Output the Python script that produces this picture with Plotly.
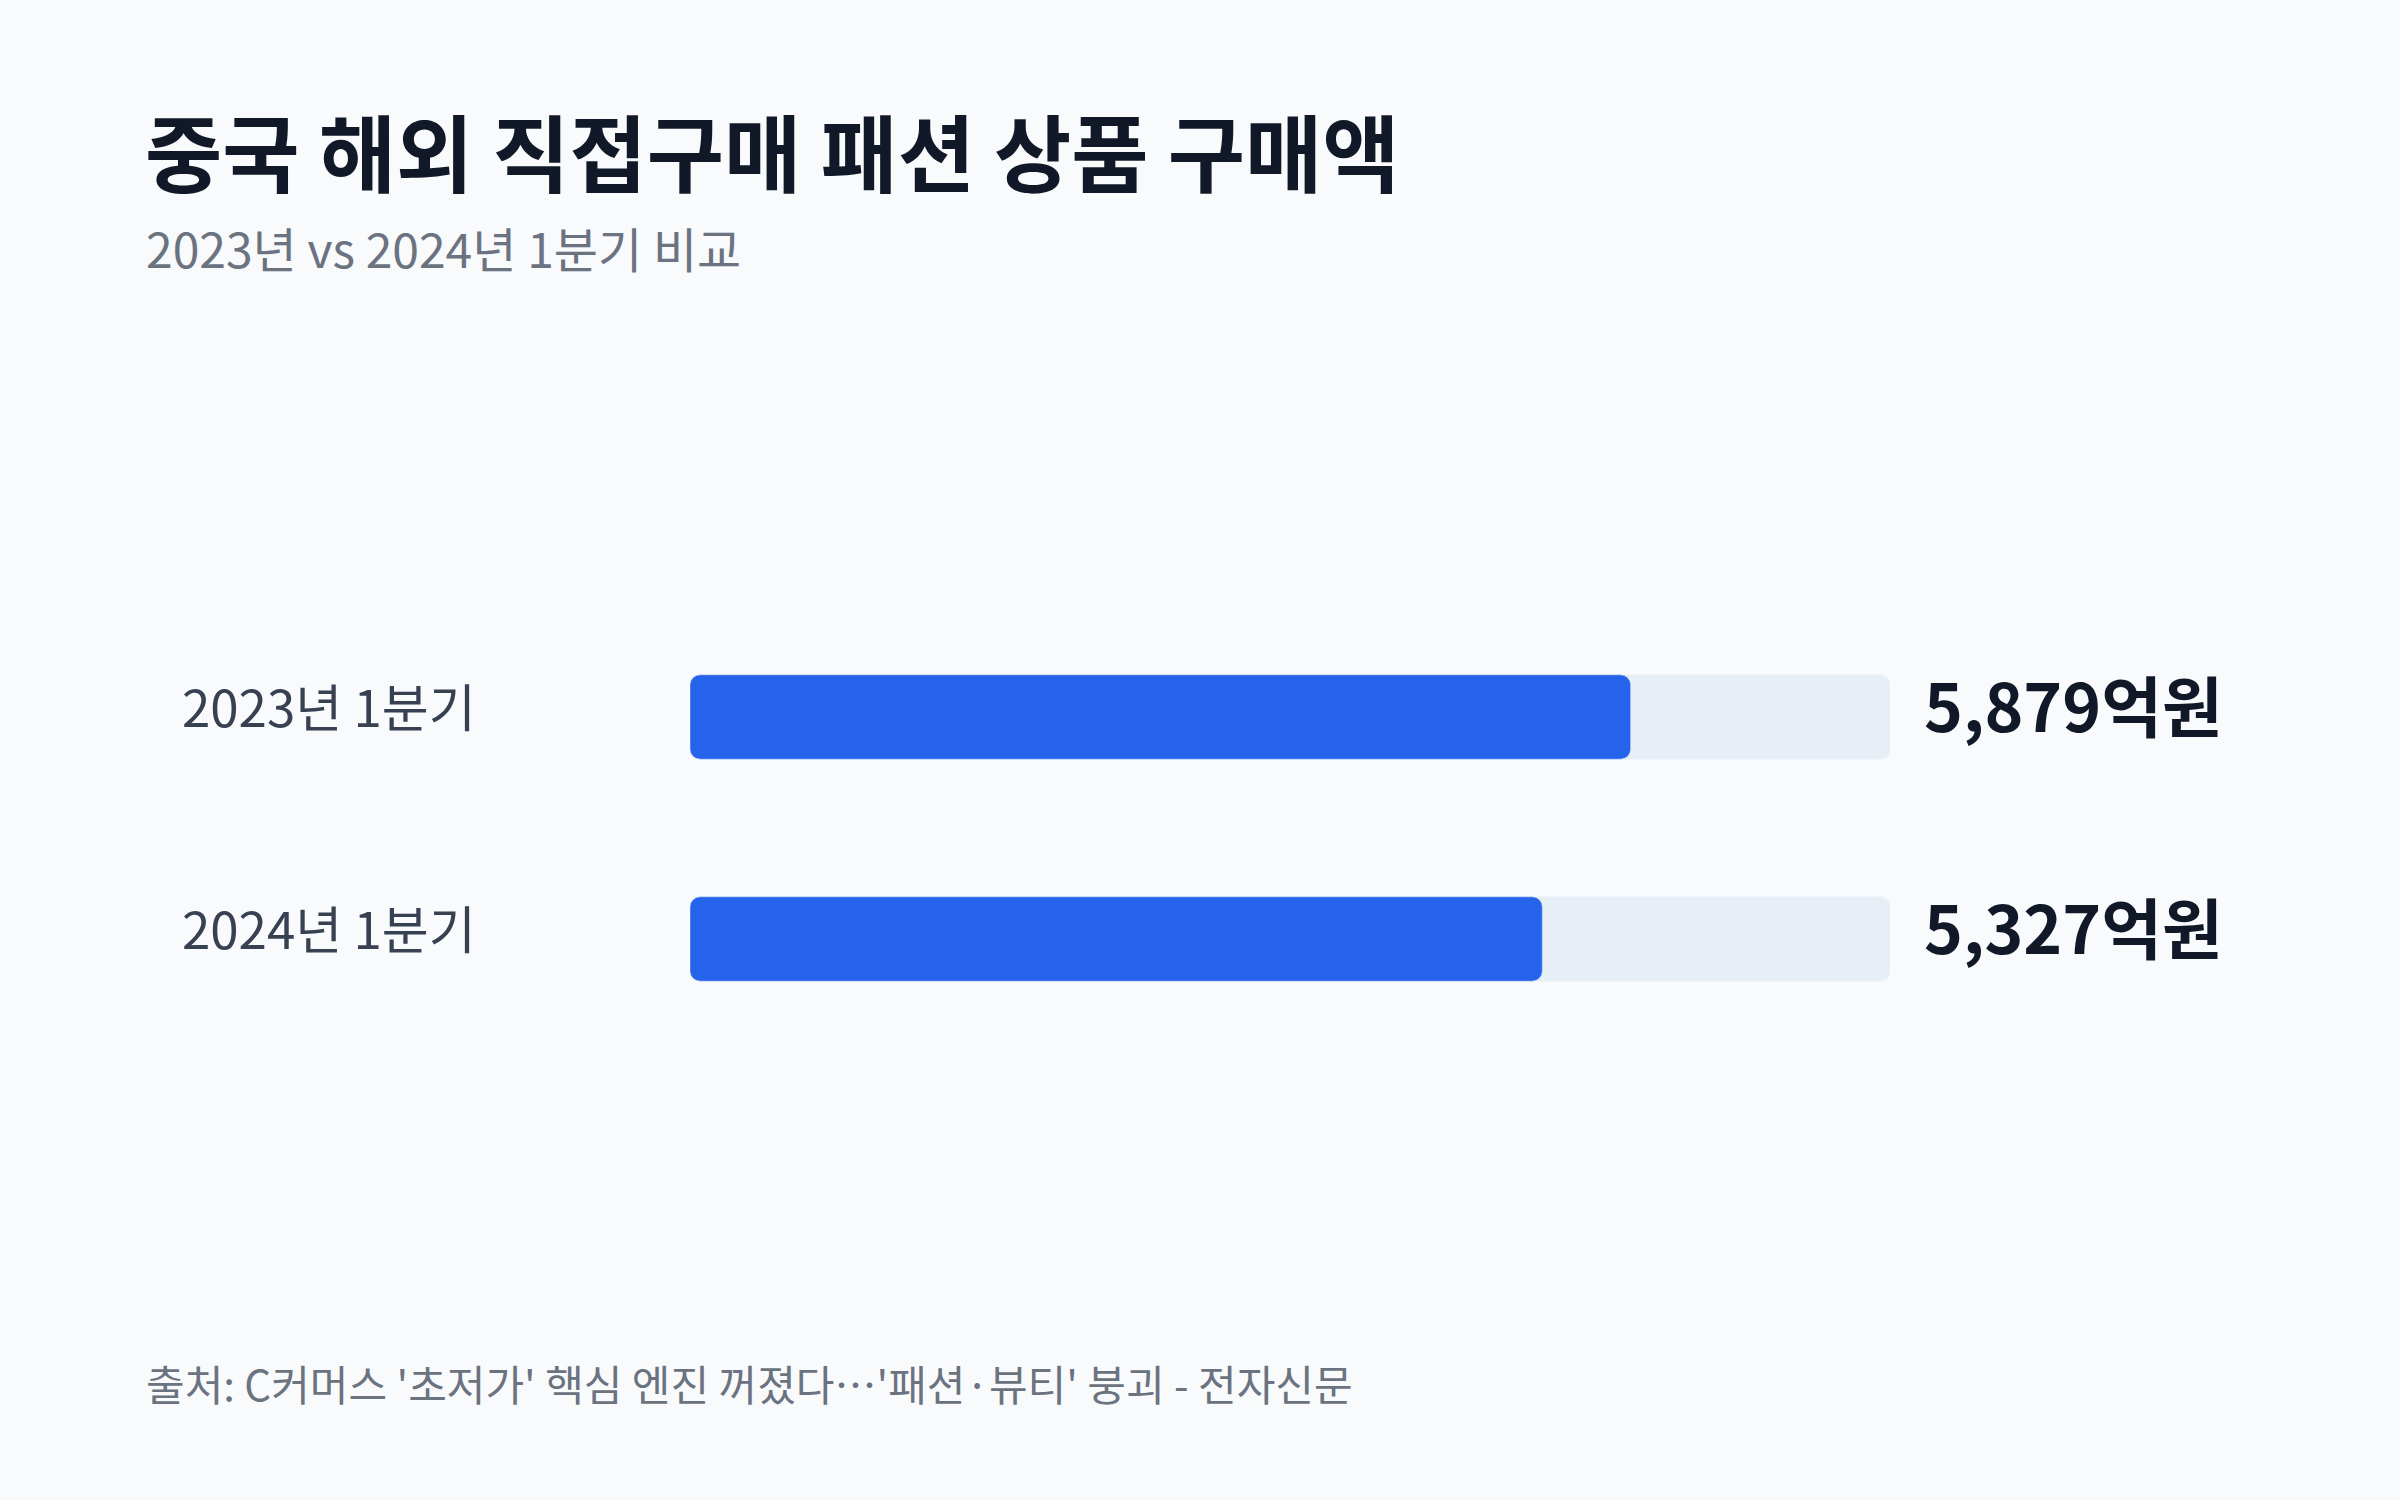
import plotly.graph_objects as go

# data
periods = ['2023년 1분기', '2024년 1분기']
amounts = [5879, 5327]          # 억원
track_max = 7500
unit = '억원'

title = '중국 해외 직접구매 패션 상품 구매액'
subtitle = '2023년 vs 2024년 1분기 비교'
source = "출처: C커머스 '초저가' 핵심 엔진 꺼졌다…'패션·뷰티' 붕괴 - 전자신문"

W, H = 2400, 1500
FONT = 'Noto Sans CJK KR'
BG = '#F8FAFC'
BLUE = '#2563EB'
TRACK = '#E7EEF6'

# plot area in pixels
left, right = 690, 1890
top, bottom = 606, 1050


def px_x(x):
    return (x - left) / (right - left)


def px_y(y):
    return (bottom - y) / (bottom - top)


fig = go.Figure()

# grey track behind each bar
fig.add_trace(go.Bar(
    y=periods, x=[track_max] * len(periods), base=[0] * len(periods),
    orientation='h', marker=dict(color=TRACK, cornerradius=10),
    width=0.38, hoverinfo='skip', showlegend=False,
))

# actual values
fig.add_trace(go.Bar(
    y=periods, x=amounts, base=[0] * len(periods), orientation='h',
    marker=dict(color=BLUE, cornerradius=10),
    width=0.38, showlegend=False,
    hovertemplate='%{y}: %{x:,}억원<extra></extra>',
))

annotations = []

# row labels on the left
for p in periods:
    annotations.append(dict(
        x=px_x(180), xref='paper', y=p, yref='y', yshift=12,
        text=p, showarrow=False, xanchor='left', yanchor='middle',
        font=dict(family=FONT, size=51, color='#374151'),
    ))

# value labels right of the track
for p, v in zip(periods, amounts):
    annotations.append(dict(
        x=track_max, xref='x', xshift=32, y=p, yref='y', yshift=14,
        text=f'{v:,}{unit}', showarrow=False, xanchor='left', yanchor='middle',
        font=dict(family=FONT, size=66, color='#111827', weight=700),
    ))

# title, subtitle, source
annotations.append(dict(
    x=px_x(143), xref='paper', y=px_y(150), yref='paper',
    text=title, showarrow=False, xanchor='left', yanchor='middle',
    font=dict(family=FONT, size=84, color='#111827', weight=700),
))
annotations.append(dict(
    x=px_x(144), xref='paper', y=px_y(247), yref='paper',
    text=subtitle, showarrow=False, xanchor='left', yanchor='middle',
    font=dict(family=FONT, size=48, color='#6B7280'),
))
annotations.append(dict(
    x=px_x(144), xref='paper', y=px_y(1382), yref='paper',
    text=source, showarrow=False, xanchor='left', yanchor='middle',
    font=dict(family=FONT, size=42, color='#6B7280'),
))

fig.update_layout(
    width=W, height=H,
    margin=dict(l=left, r=W - right, t=top, b=H - bottom, pad=0),
    paper_bgcolor=BG, plot_bgcolor=BG,
    barmode='overlay',
    xaxis=dict(range=[0, track_max], visible=False, fixedrange=True),
    yaxis=dict(categoryorder='array', categoryarray=periods,
               range=[1.5, -0.5], visible=False, fixedrange=True),
    annotations=annotations,
    font=dict(family=FONT),
)

# drop the page margin so the figure sits flush in the window
fig.write_html('out.html', config={'displayModeBar': False},
               post_script="document.body.style.margin='0';"
                           "document.body.style.background='#F8FAFC';")
